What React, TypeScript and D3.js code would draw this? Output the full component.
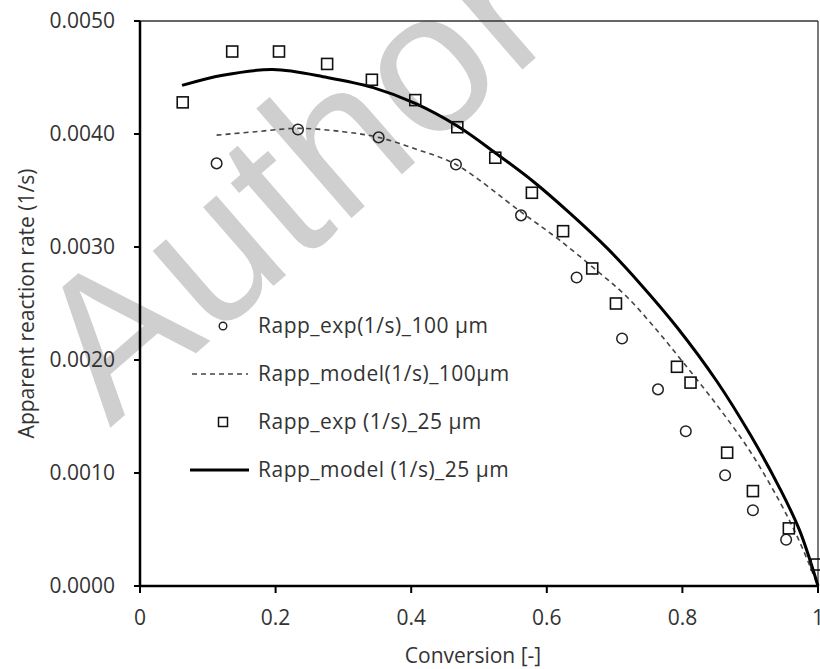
import * as d3 from 'd3'

// Experimental points, 100 µm particles
const exp100X = [0.113, 0.233, 0.352, 0.466, 0.562, 0.644, 0.711, 0.764, 0.805, 0.863, 0.904, 0.953]
const exp100Y = [0.00374, 0.00404, 0.00397, 0.00373, 0.00328, 0.00273, 0.00219, 0.00174, 0.00137, 0.00098, 0.00067, 0.00041]

// Model curve, 100 µm particles
const model100X = [0.113, 0.17, 0.233, 0.3, 0.352, 0.41, 0.466, 0.562, 0.619, 0.678, 0.718, 0.76, 0.801, 0.851, 0.9, 0.944, 0.973, 1.0]
const model100Y = [0.00399, 0.00402, 0.00405, 0.00402, 0.00397, 0.00386, 0.00373, 0.00331, 0.00306, 0.00277, 0.00256, 0.00228, 0.00198, 0.0016, 0.00119, 0.00074, 0.00039, 0]

// Experimental points, 25 µm particles
const exp25X = [0.063, 0.136, 0.205, 0.276, 0.342, 0.406, 0.468, 0.524, 0.578, 0.624, 0.667, 0.702, 0.792, 0.812, 0.866, 0.904, 0.957, 0.998]
const exp25Y = [0.00428, 0.00473, 0.00473, 0.00462, 0.00448, 0.0043, 0.00406, 0.00379, 0.00348, 0.00314, 0.00281, 0.0025, 0.00194, 0.0018, 0.00118, 0.00084, 0.00051, 0.00019]

// Model curve, 25 µm particles
const model25X = [0.062, 0.122, 0.196, 0.276, 0.344, 0.406, 0.468, 0.527, 0.58, 0.634, 0.689, 0.737, 0.792, 0.851, 0.9, 0.944, 0.973, 1.0]
const model25Y = [0.00443, 0.00452, 0.00457, 0.0045, 0.00441, 0.00427, 0.00407, 0.00382, 0.00358, 0.0033, 0.00299, 0.00268, 0.00229, 0.00181, 0.00134, 0.00086, 0.00049, 0]

const xTicks = [0, 0.2, 0.4, 0.6, 0.8, 1]
const yTicks = [0, 0.001, 0.002, 0.003, 0.004, 0.005]

const legendLabels = [
  'Rapp_exp(1/s)_100 µm',
  'Rapp_model(1/s)_100µm',
  'Rapp_exp (1/s)_25 µm',
  'Rapp_model (1/s)_25 µm',
]

const width = 820
const height = 669
const margin = { top: 21, right: 2, bottom: 83, left: 140 }
const font = "'Open Sans', sans-serif"
const textColor = '#333'
const fontSize = 21

const zip = (xs: number[], ys: number[]) => xs.map((x, i) => [x, ys[i]] as [number, number])

export default function App() {
  const x = d3.scaleLinear().domain([0, 1]).range([margin.left, width - margin.right])
  const y = d3.scaleLinear().domain([0, 0.005]).range([height - margin.bottom, margin.top])

  const line = d3
    .line<[number, number]>()
    .x((d) => x(d[0]))
    .y((d) => y(d[1]))
    .curve(d3.curveCatmullRom.alpha(0.5))

  const x0 = x(0)
  const x1 = x(1)
  const yBot = y(0)
  const yTop = y(0.005)

  // legend rows
  const legX = 223
  const legTextX = 258
  const legRows = [326, 374, 422, 470]

  return (
    <svg
      width={width}
      height={height}
      style={{ position: 'absolute', left: 0, top: 0, background: '#fff' }}
    >
      {/* watermark */}
      <text
        transform="translate(110,428) rotate(-41)"
        fontFamily="'Liberation Sans', Arial, sans-serif"
        fontSize={200}
        letterSpacing={2}
        fill="#cfcfcf"
      >
        Author
      </text>

      {/* frame */}
      <line x1={x0} x2={x1} y1={yTop} y2={yTop} stroke="#333" strokeWidth={1.3} />
      <line x1={x1} x2={x1} y1={yTop} y2={yBot} stroke="#333" strokeWidth={1.3} />
      <line x1={x0} x2={x0} y1={yTop} y2={yBot + 1} stroke="#000" strokeWidth={2.5} />
      <line x1={x0 - 1} x2={x1} y1={yBot} y2={yBot} stroke="#000" strokeWidth={2.5} />

      {/* y ticks */}
      {yTicks.map((t) => (
        <g key={'y' + t}>
          <line x1={x0 - 6} x2={x0} y1={y(t)} y2={y(t)} stroke="#000" strokeWidth={2} />
          <text
            x={x0 - 25}
            y={y(t)}
            dy="0.35em"
            textAnchor="end"
            fontFamily={font}
            fontSize={fontSize}
            fill={textColor}
          >
            {t.toFixed(4)}
          </text>
        </g>
      ))}

      {/* x ticks */}
      {xTicks.map((t) => (
        <g key={'x' + t}>
          <line x1={x(t)} x2={x(t)} y1={yBot} y2={yBot + 7} stroke="#000" strokeWidth={2} />
          <text
            x={x(t)}
            y={618}
            dy="0.35em"
            textAnchor="middle"
            fontFamily={font}
            fontSize={fontSize}
            fill={textColor}
          >
            {String(t)}
          </text>
        </g>
      ))}

      {/* axis titles */}
      <text
        x={473}
        y={656}
        dy="0.35em"
        textAnchor="middle"
        fontFamily={font}
        fontSize={fontSize}
        fill={textColor}
      >
        Conversion [-]
      </text>
      <text
        transform={`translate(27,${(yTop + yBot) / 2}) rotate(-90)`}
        dy="0.35em"
        textAnchor="middle"
        fontFamily={font}
        fontSize={fontSize}
        fill={textColor}
      >
        Apparent reaction rate (1/s)
      </text>

      {/* model curves */}
      <path
        d={line(zip(model100X, model100Y)) || ''}
        fill="none"
        stroke="#444"
        strokeWidth={1.6}
        strokeDasharray="5,4"
      />
      <path d={line(zip(model25X, model25Y)) || ''} fill="none" stroke="#000" strokeWidth={3} />

      {/* experimental points */}
      {zip(exp100X, exp100Y).map((d, i) => (
        <circle key={'c' + i} cx={x(d[0])} cy={y(d[1])} r={5.3} fill="none" stroke="#222" strokeWidth={1.5} />
      ))}
      {zip(exp25X, exp25Y).map((d, i) => (
        <rect
          key={'s' + i}
          x={x(d[0]) - 5.5}
          y={y(d[1]) - 5.5}
          width={11}
          height={11}
          fill="none"
          stroke="#111"
          strokeWidth={1.6}
        />
      ))}

      {/* legend */}
      <circle cx={legX} cy={legRows[0]} r={3.8} fill="none" stroke="#222" strokeWidth={1.4} />
      <line x1={192} x2={248} y1={legRows[1]} y2={legRows[1]} stroke="#444" strokeWidth={1.6} strokeDasharray="5,4" />
      <rect x={legX - 4.5} y={legRows[2] - 4.5} width={9} height={9} fill="none" stroke="#111" strokeWidth={1.5} />
      <line x1={190} x2={249} y1={legRows[3]} y2={legRows[3]} stroke="#000" strokeWidth={3} />
      {legendLabels.map((label, i) => (
        <text
          key={label}
          x={legTextX}
          y={legRows[i]}
          dy="0.35em"
          fontFamily={font}
          fontSize={fontSize}
          letterSpacing={0.5}
          fill={textColor}
        >
          {label}
        </text>
      ))}
    </svg>
  )
}
